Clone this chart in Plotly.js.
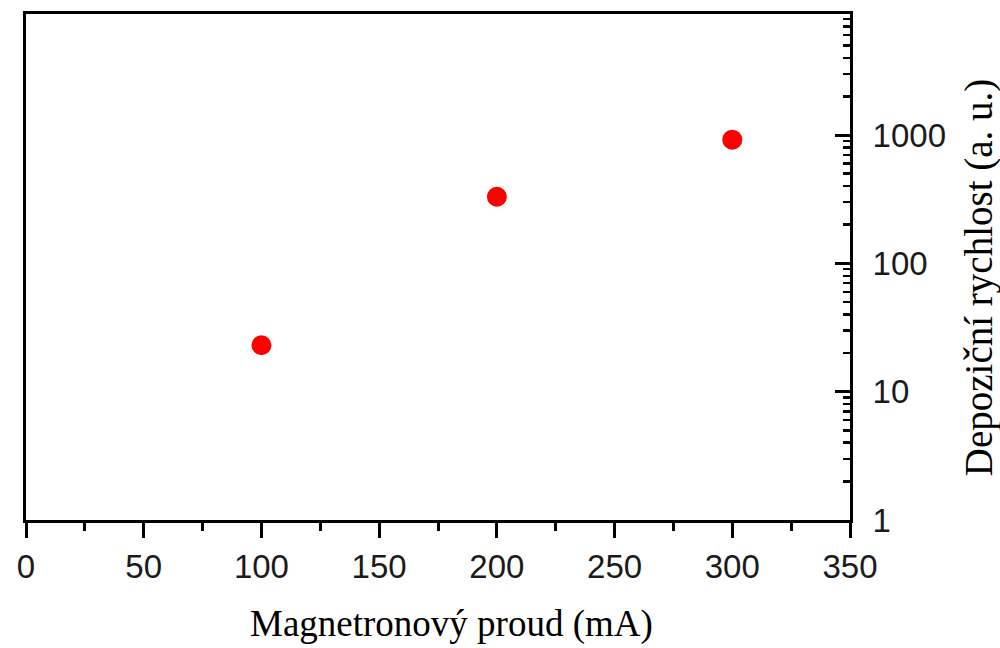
<!DOCTYPE html>
<html>
<head>
<meta charset="utf-8">
<script src="https://cdn.plot.ly/plotly-3.0.1.min.js"></script>
<style>html,body{margin:0;padding:0;background:#fff;}#chart{width:1000px;height:648px;}</style>
</head>
<body>
<div id="chart"></div>
<script>
const currents = [100, 200, 300];
const rates = [23, 330, 920];
const xTickVals = [0, 50, 100, 150, 200, 250, 300, 350];
const yTickVals = [1, 10, 100, 1000];
const yTickText = ['1', '10', '100', '1000'];
const xTitle = 'Magnetronový proud (mA)';
const yTitle = 'Depoziční rychlost (a. u.)';

const trace = {
  x: currents,
  y: rates,
  type: 'scatter',
  mode: 'markers',
  marker: {color: '#ff0000', size: 20, line: {width: 0}},
  showlegend: false,
  hoverinfo: 'x+y'
};

const serif = 'Liberation Serif, Times New Roman, serif';
const sans = 'Liberation Sans, Arial, sans-serif';

const layout = {
  width: 1000,
  height: 648,
  margin: {l: 26, r: 150, t: 14, b: 128, pad: 0},
  paper_bgcolor: '#ffffff',
  plot_bgcolor: '#ffffff',
  font: {family: sans, color: '#000'},
  xaxis: {
    range: [0, 350],
    tickvals: xTickVals,
    ticks: 'outside',
    ticklen: 15,
    tickwidth: 3,
    tickcolor: '#000',
    showline: true,
    linewidth: 3,
    linecolor: '#000',
    mirror: true,
    showgrid: false,
    zeroline: false,
    tickfont: {size: 33, family: sans, color: '#1a1a1a'},
    minor: {dtick: 25, tick0: 0, ticks: 'outside', ticklen: 8, tickwidth: 3, tickcolor: '#000', showgrid: false}
  },
  yaxis: {
    type: 'log',
    side: 'right',
    range: [0, Math.log10(8770)],
    tickvals: yTickVals,
    ticktext: yTickText,
    ticks: 'inside',
    ticklen: 15,
    tickwidth: 3,
    tickcolor: '#000',
    ticklabelstandoff: 13,
    showline: true,
    linewidth: 3,
    linecolor: '#000',
    mirror: true,
    showgrid: false,
    zeroline: false,
    tickfont: {size: 33, family: sans, color: '#1a1a1a'},
    minor: {dtick: 'D1', ticks: 'inside', ticklen: 7, tickwidth: 2.5, tickcolor: '#000', showgrid: false}
  },
  annotations: [
    {text: xTitle, xref: 'paper', yref: 'paper', x: 0.516, y: -0.205, xanchor: 'center', yanchor: 'middle', showarrow: false,
     font: {family: serif, size: 37, color: '#000'}},
    {text: yTitle, xref: 'paper', yref: 'paper', x: 1.1566, y: 0.478, xanchor: 'center', yanchor: 'middle', showarrow: false, textangle: -90,
     font: {family: serif, size: 39, color: '#000'}}
  ]
};

Plotly.newPlot('chart', [trace], layout, {staticPlot: true, displayModeBar: false});
</script>
</body>
</html>
